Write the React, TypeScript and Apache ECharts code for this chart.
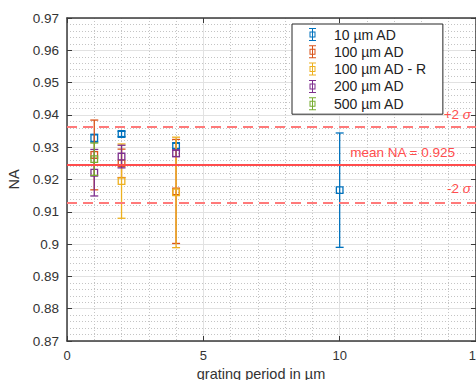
import React, { useEffect, useRef } from 'react';
import * as echarts from 'echarts';

// ---- data ----
const seriesNames = ['10 µm AD', '100 µm AD', '100 µm AD - R', '200 µm AD', '500 µm AD'];
const seriesColors = ['#0072BD', '#D95319', '#EDB120', '#7E2F8E', '#77AC30'];

const periods10 = [1, 2, 4, 10];
const na10 = [0.9328, 0.9341, 0.9304, 0.9167];
const err10 = [0.0012, 0.0008, 0.0008, 0.0177];

const periods100 = [1, 2, 4];
const na100 = [0.9276, 0.925, 0.9163];
const err100 = [0.0108, 0.0044, 0.0161];

const periods100R = [2, 4];
const na100R = [0.9195, 0.916];
const err100R = [0.0115, 0.0171];

const periods200 = [1, 2, 4];
const na200 = [0.9221, 0.9271, 0.9281];
const err200 = [0.0072, 0.0035, 0.001];

const periods500 = [1];
const na500 = [0.9263];
const err500 = [0.005];

const meanNA = 0.9246;
const sigmaNA = 0.0059;

const xMin = 0;
const xMax = 15;
const xStep = 5;
const yMin = 0.87;
const yMax = 0.97;
const yStep = 0.01;

const allSets = [
  { xs: periods10, ys: na10, es: err10 },
  { xs: periods100, ys: na100, es: err100 },
  { xs: periods100R, ys: na100R, es: err100R },
  { xs: periods200, ys: na200, es: err200 },
  { xs: periods500, ys: na500, es: err500 },
];

const legendIcon =
  'path://M0 0H7V1H0Z M0 12H7V13H0Z M3 1H4V12H3Z M0.5 3.5H6.5V4.5H0.5Z M0.5 8.5H6.5V9.5H0.5Z M0.5 3.5H1.5V9.5H0.5Z M5.5 3.5H6.5V9.5H5.5Z';

const TXT = '#333333';
const RED = '#ff4d4d';
const FONT = '"Liberation Sans", Arial, Helvetica, sans-serif';

export default function App() {
  const ref = useRef<HTMLDivElement>(null);

  useEffect(() => {
    if (!ref.current) return;
    const chart = echarts.init(ref.current, undefined, { renderer: 'svg' });

    const series: any[] = allSets.map((set, si) => {
      const color = seriesColors[si];
      const data = set.xs.map((x, i) => [x, set.ys[i], set.ys[i] - set.es[i], set.ys[i] + set.es[i]]);
      const s: any = {
        name: seriesNames[si],
        type: 'custom',
        xAxisIndex: 0,
        yAxisIndex: 0,
        itemStyle: { color },
        data,
        z: 3,
        renderItem: (params: any, api: any) => {
          const x = api.value(0);
          const c = api.coord([x, api.value(1)]);
          const lo = api.coord([x, api.value(2)]);
          const hi = api.coord([x, api.value(3)]);
          const cap = 4;
          const h = 3.3;
          const lw = 1.3;
          return {
            type: 'group',
            children: [
              { type: 'line', shape: { x1: c[0], y1: hi[1], x2: c[0], y2: lo[1] }, style: { stroke: color, lineWidth: lw } },
              { type: 'line', shape: { x1: c[0] - cap, y1: hi[1], x2: c[0] + cap, y2: hi[1] }, style: { stroke: color, lineWidth: lw } },
              { type: 'line', shape: { x1: c[0] - cap, y1: lo[1], x2: c[0] + cap, y2: lo[1] }, style: { stroke: color, lineWidth: lw } },
              { type: 'rect', shape: { x: c[0] - h, y: c[1] - h, width: 2 * h, height: 2 * h }, style: { stroke: color, fill: 'none', lineWidth: lw } },
            ],
          };
        },
      };
      return s;
    });

    const sigmaRich = { i: { fontStyle: 'italic', color: RED, fontSize: 13.5, fontFamily: FONT } };

    // reference lines
    series.push({
      name: 'refLines',
      type: 'line',
      data: [],
      z: 4,
      markLine: {
        silent: true,
        symbol: 'none',
        animation: false,
        precision: 6,
        data: [
          {
            yAxis: meanNA,
            lineStyle: { color: RED, width: 2, type: 'solid' },
            label: {
              show: true,
              position: 'insideEndTop',
              distance: [21, 5],
              formatter: 'mean NA = ' + meanNA.toFixed(3),
              color: RED,
              fontSize: 13.5,
              fontFamily: FONT,
            },
          },
          {
            yAxis: meanNA + 2 * sigmaNA,
            lineStyle: { color: '#ff7a7a', width: 2, type: [10, 6] },
            label: {
              show: true,
              position: 'insideEndTop',
              distance: [5, 5],
              formatter: '+2 {i|σ}',
              color: RED,
              fontSize: 13.5,
              fontFamily: FONT,
              rich: sigmaRich,
            },
          },
          {
            yAxis: meanNA - 2 * sigmaNA,
            lineStyle: { color: '#ff7a7a', width: 2, type: [10, 6] },
            label: {
              show: true,
              position: 'insideEndTop',
              distance: [5, 7],
              formatter: '-2 {i|σ}',
              color: RED,
              fontSize: 13.5,
              fontFamily: FONT,
              rich: sigmaRich,
            },
          },
        ],
      },
    });

    const axisLine = { show: true, onZero: false, lineStyle: { color: '#3a3a3a', width: 1.5 } };
    const tickIn = { show: true, inside: true, length: 5, lineStyle: { color: '#3a3a3a', width: 1 } };

    chart.setOption({
      animation: false,
      textStyle: { fontFamily: FONT },
      grid: { left: 67, top: 18, right: 0, bottom: 39, containLabel: false, outerBoundsMode: 'none' },
      legend: {
        show: true,
        orient: 'vertical',
        left: 292,
        top: 24,
        data: seriesNames.map((n) => ({ name: n, icon: legendIcon })),
        itemWidth: 7,
        itemHeight: 13,
        itemGap: 3.3,
        padding: [3.5, 16, 3.5, 17],
        backgroundColor: '#ffffff',
        borderColor: '#262626',
        borderWidth: 1,
        selectedMode: false,
        itemStyle: { borderWidth: 0 },
        textStyle: { fontSize: 14, color: '#222', fontFamily: FONT, padding: [0, 0, 0, 13], lineHeight: 14 },
      },
      xAxis: [
        {
          type: 'value',
          min: xMin,
          max: xMax,
          interval: xStep,
          position: 'bottom',
          name: 'grating period in µm',
          nameLocation: 'middle',
          nameGap: 24,
          nameTextStyle: { fontSize: 14.5, color: TXT, fontFamily: FONT, padding: [0, 21, 0, 0] },
          axisLine,
          axisTick: tickIn,
          axisLabel: { show: true, margin: 8, fontSize: 13, color: TXT, fontFamily: FONT },
          splitLine: { show: true, lineStyle: { color: '#e2e2e2', width: 1 } },
          minorTick: { show: false, splitNumber: 5 },
          minorSplitLine: { show: true, lineStyle: { color: '#c4c4c4', width: 1, type: [1, 2] } },
        },
        {
          type: 'value',
          min: xMin,
          max: xMax,
          interval: xStep,
          position: 'top',
          axisLine,
          axisTick: tickIn,
          axisLabel: { show: false },
          splitLine: { show: false },
        },
      ],
      yAxis: [
        {
          type: 'value',
          min: yMin,
          max: yMax,
          interval: yStep,
          position: 'left',
          name: 'NA',
          nameLocation: 'middle',
          nameGap: 42,
          nameTextStyle: { fontSize: 14.5, color: TXT, fontFamily: FONT },
          axisLine,
          axisTick: tickIn,
          axisLabel: { show: true, margin: 8, fontSize: 13.5, color: TXT, fontFamily: FONT },
          splitLine: { show: true, lineStyle: { color: '#e2e2e2', width: 1 } },
          minorTick: { show: false, splitNumber: 5 },
          minorSplitLine: { show: true, lineStyle: { color: '#c4c4c4', width: 1, type: [1, 2] } },
        },
        {
          type: 'value',
          min: yMin,
          max: yMax,
          interval: yStep,
          position: 'right',
          axisLine,
          axisTick: tickIn,
          axisLabel: { show: false },
          splitLine: { show: false },
        },
      ],
      series,
    });

    return () => chart.dispose();
  }, []);

  return (
    <div
      ref={ref}
      style={{ position: 'fixed', left: 0, top: 0, width: 476, height: 380, background: '#fff' }}
    />
  );
}
